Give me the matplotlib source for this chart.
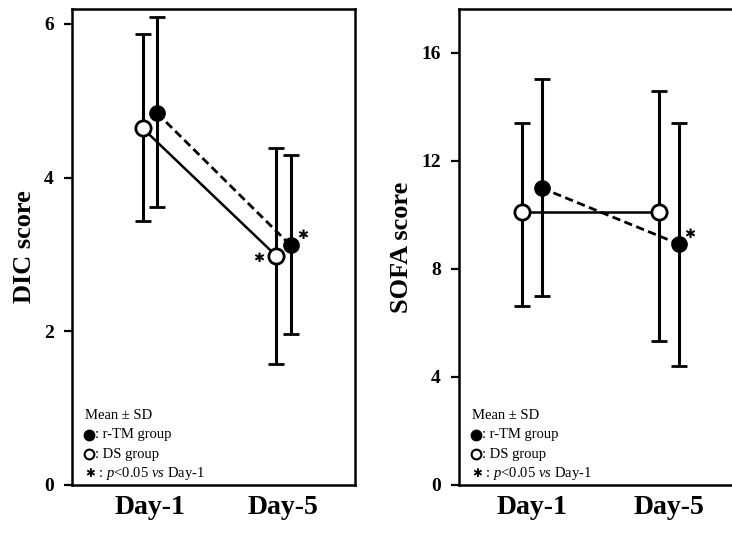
import matplotlib
matplotlib.use("Agg")
import matplotlib.pyplot as plt
import numpy as np

plt.rcParams['font.family'] = ['Liberation Serif', 'DejaVu Sans']
plt.rcParams['mathtext.fontset'] = 'custom'
plt.rcParams['mathtext.rm'] = 'Liberation Serif'
plt.rcParams['mathtext.it'] = 'Liberation Serif:italic'

days = ["Day-1", "Day-5"]

# DIC score, mean and SD bounds
dic_rtm = [4.84, 3.12]
dic_rtm_hi = [6.09, 4.29]
dic_rtm_lo = [3.62, 1.97]
dic_ds = [4.64, 2.98]
dic_ds_hi = [5.87, 4.39]
dic_ds_lo = [3.43, 1.57]

# SOFA score, mean and SD bounds
sofa_rtm = [11.0, 8.93]
sofa_rtm_hi = [15.04, 13.4]
sofa_rtm_lo = [7.0, 4.39]
sofa_ds = [10.1, 10.1]
sofa_ds_hi = [13.4, 14.6]
sofa_ds_lo = [6.64, 5.35]

fig = plt.figure(figsize=(7.32, 5.35), dpi=100)


def panel(ax, rtm, rtm_hi, rtm_lo, ds, ds_hi, ds_lo, shift, ylim, yticks,
          ylabel, stars):
    x = np.arange(1, len(days) + 1)
    xd = x - shift
    xr = x + shift
    ds = np.array(ds)
    rtm = np.array(rtm)
    ds_err = [ds - np.array(ds_lo), np.array(ds_hi) - ds]
    rtm_err = [rtm - np.array(rtm_lo), np.array(rtm_hi) - rtm]

    ax.errorbar(xd, ds, yerr=ds_err, fmt='none', ecolor='black',
                elinewidth=2.2, capsize=6, capthick=2.0, zorder=2)
    ax.errorbar(xr, rtm, yerr=rtm_err, fmt='none', ecolor='black',
                elinewidth=2.2, capsize=6, capthick=2.0, zorder=2)
    ax.plot(xd, ds, '-', color='black', lw=1.8, zorder=3)
    ax.plot(xr, rtm, '--', color='black', lw=2.0, dashes=(3, 1.6), zorder=3)
    ax.plot(xd, ds, 'o', ms=11, mfc='white', mec='black', mew=2.0, zorder=4)
    ax.plot(xr, rtm, 'o', ms=11, mfc='black', mec='black', zorder=4)

    # significance marks beside the Day-5 points
    for which, dx, dy in stars:
        px, py = (xd[1], ds[1]) if which == 'ds' else (xr[1], rtm[1])
        ax.annotate("\u2731", (px, py), xytext=(dx, dy),
                    textcoords='offset points', ha='center', va='center',
                    fontsize=9.5, family='DejaVu Sans')

    ax.set_ylim(*ylim)
    ax.set_yticks(yticks)
    ax.set_xticks(x)
    ax.set_xticklabels(days, fontsize=20, fontweight='bold')
    ax.tick_params(axis='x', length=0, pad=7)
    ax.tick_params(axis='y', direction='out', length=6, width=1.6, pad=7,
                   labelsize=14)
    for lab in ax.get_yticklabels():
        lab.set_fontweight('bold')
    ax.set_ylabel(ylabel, fontsize=19, fontweight='bold', labelpad=6)
    for sp in ax.spines.values():
        sp.set_linewidth(1.8)

    # key in the lower-left corner
    lx = 0.045
    mx = lx + 0.016
    gx = lx + 0.036
    kw = dict(transform=ax.transAxes, fontsize=10.5, va='center')
    ax.text(lx, 0.145, "Mean \u00b1 SD", **kw)
    ax.plot([mx], [0.105], 'o', ms=7.5, mfc='black', mec='black',
            transform=ax.transAxes, clip_on=False)
    ax.text(gx, 0.105, ": r-TM group", **kw)
    ax.plot([mx], [0.065], 'o', ms=7, mfc='white', mec='black', mew=1.5,
            transform=ax.transAxes, clip_on=False)
    ax.text(gx, 0.065, ": DS group", **kw)
    ax.text(lx, 0.025, "\u2731", transform=ax.transAxes, fontsize=8.5,
            va='center', family='DejaVu Sans')
    ax.text(gx, 0.025, r" : $p$<0.05 $vs$ Day-1", **kw)


ax1 = fig.add_axes([0.0984, 0.0935, 0.3866, 0.8897])
panel(ax1, dic_rtm, dic_rtm_hi, dic_rtm_lo, dic_ds, dic_ds_hi, dic_ds_lo,
      0.053, (0, 6.195), [0, 2, 4, 6], "DIC score",
      [('ds', -13, -1.5), ('rtm', 9, 7)])
ax1.set_xlim(0.416, 2.536)

ax2 = fig.add_axes([0.627, 0.0935, 0.3907, 0.8897])
panel(ax2, sofa_rtm, sofa_rtm_hi, sofa_rtm_lo, sofa_ds, sofa_ds_hi, sofa_ds_lo,
      0.07, (0, 17.63), [0, 4, 8, 12, 16], "SOFA score",
      [('rtm', 8, 6.5)])
ax2.set_xlim(0.467, 2.555)

fig.savefig("out.png", dpi=100)
